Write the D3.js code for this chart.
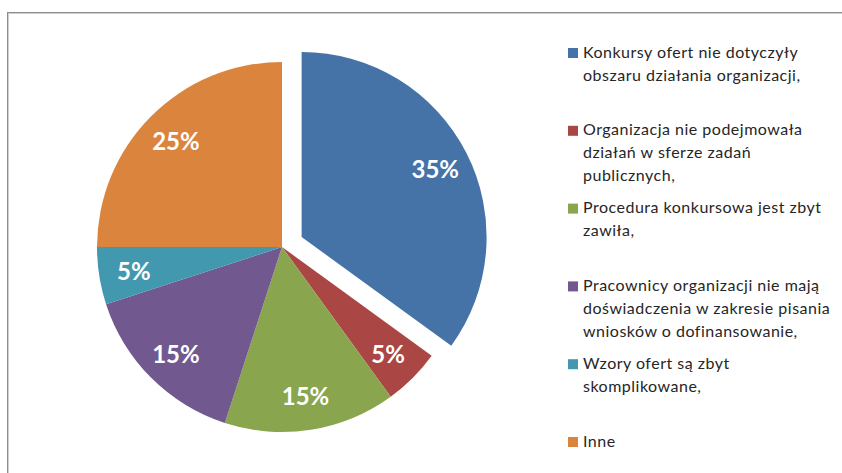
<!DOCTYPE html>
<html>
<head>
<meta charset="utf-8">
<script src="https://cdn.jsdelivr.net/npm/d3@7"></script>
<style>
  body { margin: 0; background: #fff; }
  svg { display: block; }
</style>
</head>
<body>
<svg id="chart" width="842" height="473"></svg>
<script>
// categories (line breaks as in the legend)
var categories = [
  "Konkursy ofert nie dotyczyły\nobszaru działania organizacji,",
  "Organizacja nie podejmowała\ndziałań w sferze zadań\npublicznych,",
  "Procedura konkursowa jest zbyt\nzawiła,",
  "Pracownicy organizacji nie mają\ndoświadczenia w zakresie pisania\nwniosków o dofinansowanie,",
  "Wzory ofert są zbyt\nskomplikowane,",
  "Inne"
];
var values = [35, 5, 15, 15, 5, 25];
var colors = ["#4572a7", "#aa4643", "#89a54e", "#71588f", "#4198af", "#db843d"];
var exploded = [true, false, false, false, false, false];

var width = 842, height = 473;
var cx = 282, cy = 247, radius = 185;
var explodeBy = 22, labelRadius = 150;

var svg = d3.select('#chart');

// frame
svg.append('rect')
  .attr('x', 7.5).attr('y', 12.5)
  .attr('width', 900).attr('height', 500)
  .attr('fill', 'none').attr('stroke', '#8c8c8c').attr('stroke-width', 1);
svg.append('rect')
  .attr('x', 8.5).attr('y', 13.5)
  .attr('width', 900).attr('height', 500)
  .attr('fill', 'none').attr('stroke', '#cfcfcf').attr('stroke-width', 1);

var pie = d3.pie().sort(null).value(function(d) { return d; });
var arcs = pie(values);
var arc = d3.arc().innerRadius(0).outerRadius(radius);

function offset(d, i, r) {
  var a = (d.startAngle + d.endAngle) / 2;
  return [Math.sin(a) * r, -Math.cos(a) * r];
}

var g = svg.append('g').attr('transform', 'translate(' + cx + ',' + cy + ')');

var slices = g.selectAll('g.slice')
  .data(arcs)
  .enter().append('g')
  .attr('class', 'slice')
  .attr('transform', function(d, i) {
    var o = exploded[i] ? offset(d, i, explodeBy) : [0, 0];
    return 'translate(' + o[0] + ',' + o[1] + ')';
  });

slices.append('path')
  .attr('d', arc)
  .attr('fill', function(d, i) { return colors[i]; });

slices.append('text')
  .attr('x', function(d, i) { return offset(d, i, labelRadius)[0]; })
  .attr('y', function(d, i) { return offset(d, i, labelRadius)[1]; })
  .attr('text-anchor', 'middle')
  .attr('dominant-baseline', 'central')
  .attr('fill', '#fff')
  .style('font-family', 'Lato, "Open Sans", sans-serif')
  .style('font-weight', 'bold')
  .style('font-size', '24px')
  .text(function(d) { return d.value + '%'; });

// legend
var legendY = d3.scaleLinear().domain([0, categories.length - 1]).range([48, 437]);
var lineH = 23;

var legend = svg.selectAll('g.legend')
  .data(categories)
  .enter().append('g')
  .attr('class', 'legend')
  .attr('transform', function(d, i) { return 'translate(568,' + legendY(i) + ')'; });

legend.append('rect')
  .attr('width', 10).attr('height', 10)
  .attr('fill', function(d, i) { return colors[i]; });

legend.append('text')
  .attr('x', 15)
  .attr('y', 9.5)
  .style('font-family', 'Lato, "Open Sans", sans-serif')
  .style('font-size', '16px')
  .style('letter-spacing', '0.5px')
  .attr('fill', '#262626')
  .selectAll('tspan')
  .data(function(d) { return d.split('\n'); })
  .enter().append('tspan')
  .attr('x', 15)
  .attr('dy', function(d, j) { return j === 0 ? 0 : lineH; })
  .text(function(d) { return d; });
</script>
</body>
</html>
